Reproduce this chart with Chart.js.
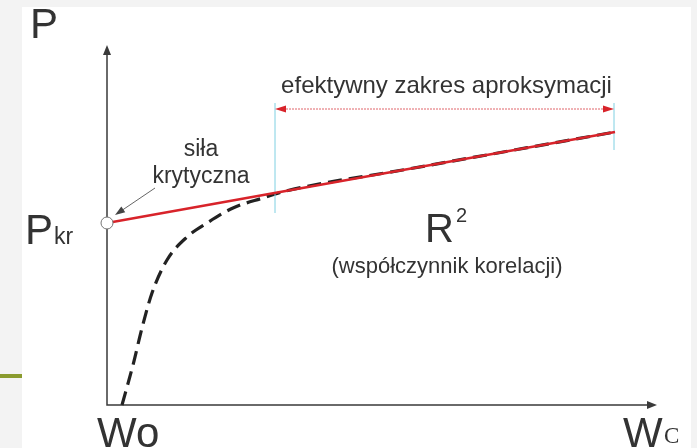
<!DOCTYPE html>
<html>
<head>
<meta charset="utf-8">
<script src="https://cdn.jsdelivr.net/npm/chart.js@4/dist/chart.umd.min.js"></script>
<style>
  html, body { margin: 0; padding: 0; background: #f3f3f3; }
  canvas { display: block; }
</style>
</head>
<body>
<canvas id="chart" width="697" height="448"></canvas>
<script>
// deflection W (x) vs load P (y), arbitrary units
const curveW = [3, 5.2, 7, 9, 12, 16, 20, 25.2, 31.2, 36, 60, 101.6];
const curveP = [0, 8, 15.4, 22.4, 29, 33.6, 36.4, 39.4, 41.4, 42.85, 47.15, 54.6];

// fitted straight line, starts at P_kr on the P axis
const fitW = [0, 101.6];
const fitP = [36.4, 54.6];

// effective approximation range
const rangeW = [33.6, 101.4];
const rangeLeftP = [38.4, 60.4];
const rangeRightP = [51, 60.4];
const rangeArrowP = 59.2;

const zip = (xs, ys) => xs.map((x, i) => ({ x: x, y: ys[i] }));

const SANS = '"Liberation Sans", Arial, sans-serif';
const TEXT = "#333";

function arrowHead(ctx, tipX, tipY, fromX, fromY, len, half, color) {
  const a = Math.atan2(tipY - fromY, tipX - fromX);
  ctx.save();
  ctx.fillStyle = color;
  ctx.beginPath();
  ctx.moveTo(tipX, tipY);
  ctx.lineTo(tipX - len * Math.cos(a) + half * Math.sin(a), tipY - len * Math.sin(a) - half * Math.cos(a));
  ctx.lineTo(tipX - len * Math.cos(a) - half * Math.sin(a), tipY - len * Math.sin(a) + half * Math.cos(a));
  ctx.closePath();
  ctx.fill();
  ctx.restore();
}

// page frame behind the chart
const frame = {
  id: "frame",
  beforeDraw(chart) {
    const ctx = chart.ctx;
    ctx.save();
    ctx.fillStyle = "#f3f3f3";
    ctx.fillRect(0, 0, chart.width, chart.height);
    ctx.fillStyle = "#ffffff";
    ctx.fillRect(22, 7, 669, chart.height - 7);
    ctx.fillStyle = "#8a9b2e";
    ctx.fillRect(0, 374, 22, 4);
    ctx.restore();
  }
};

// axes with arrows, drawn under the datasets
const axes = {
  id: "axes",
  beforeDatasetsDraw(chart) {
    const ctx = chart.ctx;
    const a = chart.chartArea;
    const x0 = a.left, y0 = a.bottom;
    ctx.save();
    ctx.strokeStyle = "#3a3a3a";
    ctx.lineWidth = 1.5;
    ctx.beginPath();
    ctx.moveTo(x0, a.top + 6);
    ctx.lineTo(x0, y0);
    ctx.lineTo(a.right - 6, y0);
    ctx.stroke();
    ctx.restore();
    arrowHead(ctx, x0, a.top, x0, y0, 10, 4, "#3a3a3a");
    arrowHead(ctx, a.right, y0, x0, y0, 10, 4, "#3a3a3a");
  }
};

// labels and annotation arrows
const notes = {
  id: "notes",
  afterDatasetsDraw(chart) {
    const ctx = chart.ctx;
    const xs = chart.scales.x, ys = chart.scales.y;
    const px = v => xs.getPixelForValue(v);
    const py = v => ys.getPixelForValue(v);

    // range dimension line
    const ay = py(rangeArrowP);
    const l = px(rangeW[0]), r = px(rangeW[1]);
    ctx.save();
    ctx.strokeStyle = "#e0646b";
    ctx.lineWidth = 1;
    ctx.setLineDash([2, 1]);
    ctx.beginPath();
    ctx.moveTo(l + 8, ay);
    ctx.lineTo(r - 8, ay);
    ctx.stroke();
    ctx.restore();
    arrowHead(ctx, l, ay, r, ay, 11, 3.5, "#d8232a");
    arrowHead(ctx, r, ay, l, ay, 11, 3.5, "#d8232a");

    // pointer to the critical force
    ctx.save();
    ctx.strokeStyle = "#666";
    ctx.lineWidth = 1;
    ctx.beginPath();
    ctx.moveTo(155, 188);
    ctx.lineTo(121, 211);
    ctx.stroke();
    ctx.restore();
    arrowHead(ctx, 115, 215, 155, 188, 10, 3.5, "#444");

    ctx.save();
    ctx.fillStyle = TEXT;
    ctx.textBaseline = "alphabetic";

    ctx.textAlign = "center";
    ctx.font = "24px " + SANS;
    ctx.fillText("efektywny zakres aproksymacji", (l + r) / 2 + 2, 93);
    ctx.font = "23px " + SANS;
    ctx.fillText("siła", 201, 156);
    ctx.fillText("krytyczna", 201, 183);
    ctx.font = "22px " + SANS;
    ctx.fillText("(współczynnik korelacji)", 447, 273);

    ctx.textAlign = "left";
    ctx.font = "40px " + SANS;
    ctx.fillText("R", 425, 242);
    ctx.font = "20px " + SANS;
    ctx.fillText("2", 456, 222);

    // axis names
    ctx.font = "42px " + SANS;
    ctx.fillText("P", 30, 38);
    ctx.fillText("P", 25, 244);
    ctx.fillText("Wo", 97, 447);
    ctx.fillText("W", 623, 447);
    ctx.font = "23px " + SANS;
    ctx.fillText("kr", 54, 244);
    ctx.font = '23px "Liberation Serif", "Times New Roman", serif';
    ctx.fillText("C", 664, 443);
    ctx.restore();
  }
};

new Chart(document.querySelector("#chart"), {
  type: "scatter",
  data: {
    datasets: [
      {
        label: "P(W)",
        data: zip(curveW, curveP),
        showLine: true,
        borderColor: "#222",
        borderWidth: 3.2,
        borderDash: [14, 7],
        cubicInterpolationMode: "monotone",
        pointRadius: 0,
        clip: 4,
        order: 3
      },
      {
        label: "aproksymacja",
        data: zip(fitW, fitP),
        showLine: true,
        borderColor: "#d8232a",
        borderWidth: 2.5,
        pointRadius: [6, 0],
        pointBackgroundColor: "#ffffff",
        pointBorderColor: "#777",
        pointBorderWidth: 1,
        clip: false,
        order: 1
      },
      {
        label: "zakres od",
        data: zip([rangeW[0], rangeW[0]], rangeLeftP),
        showLine: true,
        borderColor: "#7fd0e2",
        borderWidth: 1,
        pointRadius: 0,
        order: 2
      },
      {
        label: "zakres do",
        data: zip([rangeW[1], rangeW[1]], rangeRightP),
        showLine: true,
        borderColor: "#7fd0e2",
        borderWidth: 1,
        pointRadius: 0,
        order: 2
      }
    ]
  },
  options: {
    responsive: false,
    animation: false,
    layout: { padding: { left: 107, right: 40, top: 45, bottom: 43 } },
    scales: {
      x: { type: "linear", min: 0, max: 110, display: false },
      y: { type: "linear", min: 0, max: 72, display: false }
    },
    plugins: {
      legend: { display: false },
      tooltip: { enabled: false }
    }
  },
  plugins: [frame, axes, notes]
});
</script>
</body>
</html>
